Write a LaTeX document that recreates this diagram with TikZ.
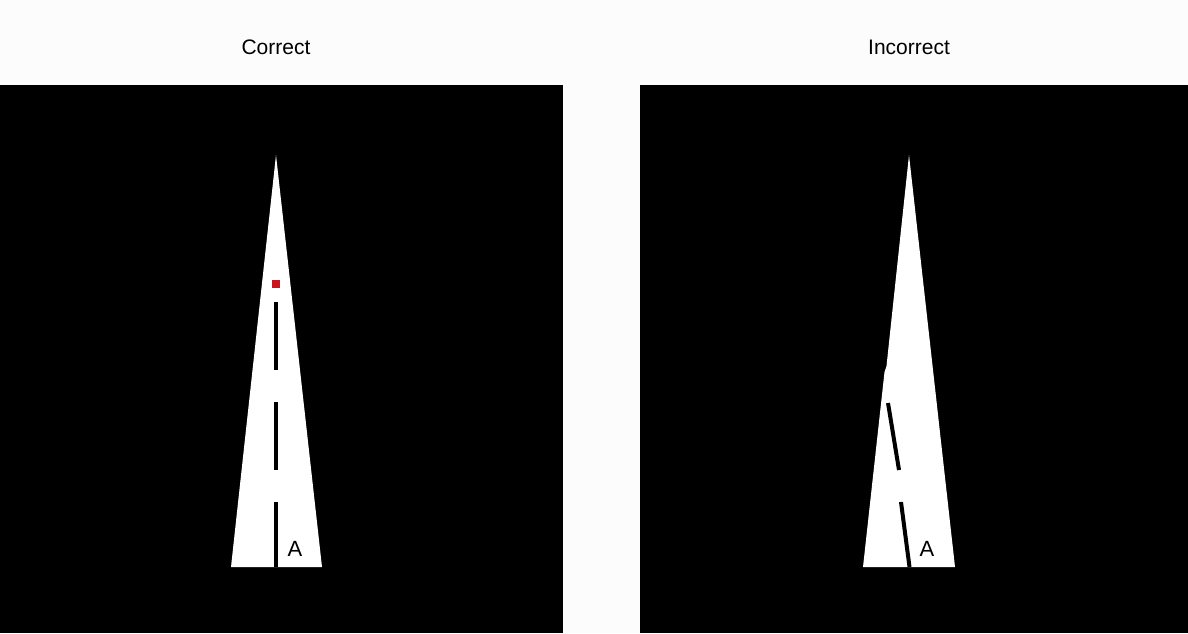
\documentclass[tikz,border=0pt]{standalone}
\usepackage{fontspec}
\setmainfont{Liberation Sans}
\definecolor{bg}{RGB}{252,252,252}
\definecolor{markred}{RGB}{200,20,30}
\begin{document}
\begin{tikzpicture}[x=1pt,y=-1pt,
  panel/.style={fill=black},
  road/.style={fill=white},
  dashline/.style={draw=black,line width=4pt},
  title/.style={font=\fontsize{21}{24}\selectfont,inner sep=0pt},
  lab/.style={font=\fontsize{22}{24}\selectfont,inner sep=0pt}]
\fill[bg] (0,0) rectangle (1188,633);
\useasboundingbox (0,0) rectangle (1188,633);
% panels
\fill[panel] (0,85) rectangle (563,633);
\fill[panel] (640,85) rectangle (1188,633);
% titles
\node[title] (t1) at (276,47) {Correct};
\node[title] (t2) at (909,47) {Incorrect};
% left road
\fill[road] (276,155) -- (322,567) -- (231,567) -- cycle;
\draw[dashline] (276,302) -- (276,370);
\draw[dashline] (276,402) -- (276,470);
\draw[dashline] (276,502) -- (276,567);
\fill[markred] (272,280) rectangle (280,288);
\node[lab] (a1) at (295,549) {A};
% right road (incorrect)
\fill[road] (909,155) -- (955,567) -- (863,567) -- (884.5,372) -- (886.5,366) -- cycle;
\draw[dashline] (888,403) -- (899,470);
\draw[dashline] (901,502) -- (909.5,567);
\node[lab] (a2) at (927,549) {A};
\end{tikzpicture}
\end{document}
